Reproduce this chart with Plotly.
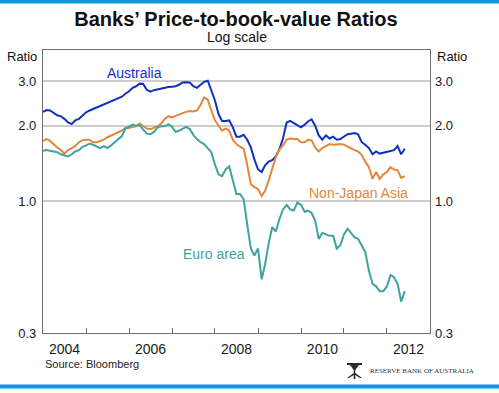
import math
import pandas as pd
import plotly.graph_objects as go

# ---------------- data (monthly, from Jan 2004) ----------------
australia = [2.27, 2.31, 2.30, 2.25, 2.20, 2.18, 2.13, 2.06, 2.03, 2.10, 2.13, 2.19,
             2.26, 2.30, 2.33, 2.35, 2.39, 2.43, 2.45, 2.49, 2.53, 2.57, 2.61, 2.68,
             2.74, 2.83, 2.87, 2.94, 2.93, 2.78, 2.73, 2.77, 2.79, 2.82, 2.83, 2.85,
             2.86, 2.87, 2.91, 2.97, 2.98, 2.97, 2.87, 2.83, 2.91, 2.99, 3.02, 2.78,
             2.52, 2.22, 2.09, 2.09, 2.10, 1.97, 1.81, 1.81, 1.84, 1.76, 1.64, 1.47,
             1.34, 1.31, 1.39, 1.44, 1.46, 1.51, 1.61, 1.78, 2.06, 2.09, 2.05, 2.00,
             1.97, 2.02, 2.08, 2.12, 2.00, 1.83, 1.76, 1.83, 1.78, 1.81, 1.76, 1.77,
             1.81, 1.85, 1.86, 1.87, 1.85, 1.72, 1.68, 1.63, 1.54, 1.58, 1.55, 1.56,
             1.57, 1.59, 1.60, 1.66, 1.54, 1.62]

non_japan_asia = [1.74, 1.77, 1.74, 1.68, 1.64, 1.60, 1.55, 1.60, 1.63, 1.66, 1.72, 1.75,
                  1.76, 1.76, 1.72, 1.72, 1.74, 1.76, 1.80, 1.83, 1.85, 1.88, 1.91, 1.96,
                  1.96, 1.98, 1.99, 2.04, 2.00, 1.95, 1.94, 1.97, 1.99, 2.04, 2.13, 2.18,
                  2.16, 2.19, 2.22, 2.25, 2.27, 2.29, 2.28, 2.30, 2.42, 2.59, 2.54, 2.30,
                  2.10, 2.00, 1.91, 1.95, 1.91, 1.76, 1.69, 1.65, 1.62, 1.40, 1.17, 1.14,
                  1.12, 1.05, 1.10, 1.21, 1.34, 1.50, 1.61, 1.67, 1.76, 1.78, 1.77, 1.77,
                  1.72, 1.72, 1.76, 1.75, 1.64, 1.58, 1.63, 1.66, 1.69, 1.68, 1.69, 1.69,
                  1.68, 1.65, 1.63, 1.60, 1.58, 1.53, 1.44, 1.37, 1.23, 1.31, 1.23, 1.28,
                  1.31, 1.37, 1.34, 1.33, 1.24, 1.26]

euro_area = [1.59, 1.60, 1.59, 1.58, 1.57, 1.54, 1.52, 1.51, 1.54, 1.58, 1.60, 1.65,
             1.67, 1.70, 1.68, 1.66, 1.63, 1.66, 1.63, 1.67, 1.72, 1.76, 1.82, 1.95,
             1.98, 2.02, 2.00, 2.01, 1.93, 1.86, 1.85, 1.89, 1.97, 1.99, 1.99, 2.03,
             1.98, 1.89, 1.91, 1.95, 1.98, 1.94, 1.84, 1.77, 1.72, 1.69, 1.63, 1.57,
             1.40, 1.28, 1.26, 1.34, 1.38, 1.20, 1.07, 1.07, 1.02, 0.81, 0.65, 0.61,
             0.65, 0.49, 0.56, 0.68, 0.79, 0.76, 0.85, 0.93, 0.97, 0.93, 0.92, 0.99,
             0.97, 0.91, 0.92, 0.90, 0.84, 0.71, 0.75, 0.74, 0.73, 0.73, 0.65, 0.67,
             0.74, 0.78, 0.75, 0.72, 0.71, 0.67, 0.63, 0.53, 0.47, 0.46, 0.44, 0.44,
             0.46, 0.51, 0.50, 0.47, 0.40, 0.44]

dates = pd.date_range("2004-01-01", periods=len(australia), freq="MS")

y_tick_vals = [0.3, 1.0, 2.0, 3.0]
y_tick_text = ["0.3", "1.0", "2.0", "3.0"]
x_tick_years = list(range(2005, 2013))
x_label_years = [2004, 2006, 2008, 2010, 2012]

C_AUS = "#1230c0"
C_NJA = "#e2873c"
C_EUR = "#3fa3a0"
FONT = "Liberation Sans, Arial, sans-serif"

# ---------------- geometry helpers (pixel -> paper) ----------------
W, H = 499, 393
ML, MR, MT, MB = 43, 69, 50, 60
PW, PH = W - ML - MR, H - MT - MB


def px(x):
    return (x - ML) / PW


def py(y):
    return (H - MB - y) / PH


yrange = [math.log10(0.3), math.log10(4.0)]

fig = go.Figure()
for name, vals, col in [("Australia", australia, C_AUS),
                        ("Non-Japan Asia", non_japan_asia, C_NJA),
                        ("Euro area", euro_area, C_EUR)]:
    fig.add_trace(go.Scatter(x=dates, y=vals, mode="lines", name=name,
                             line=dict(color=col, width=2), showlegend=False))

# invisible helpers so the overlay axes are drawn
fig.add_trace(go.Scatter(x=[dates[0]], y=[1.0], xaxis="x2", yaxis="y",
                         mode="markers", marker=dict(opacity=0), hoverinfo="skip",
                         showlegend=False))
fig.add_trace(go.Scatter(x=[dates[0]], y=[1.0], xaxis="x", yaxis="y2",
                         mode="markers", marker=dict(opacity=0), hoverinfo="skip",
                         showlegend=False))

axis_font = dict(family=FONT, size=13, color="#1a1a1a")

fig.update_layout(
    width=W, height=H,
    margin=dict(l=ML, r=MR, t=MT, b=MB),
    paper_bgcolor="white", plot_bgcolor="white",
    showlegend=False,
    title=dict(text="<b>Banks’ Price-to-book-value Ratios</b>",
               x=px(236), xanchor="center", xref="paper",
               y=1 - 19 / H, yanchor="middle", yref="container",
               font=dict(family=FONT, size=20, color="#111")),
    xaxis=dict(type="date", range=["2004-01-01", "2013-01-01"],
               tickmode="array", tickvals=[f"{y}-01-01" for y in x_tick_years],
               showticklabels=False, ticks="inside", ticklen=5, tickcolor="#666",
               tickwidth=1, showgrid=False, zeroline=False,
               showline=True, linecolor="#6e6e6e", linewidth=1.3, mirror=True),
    xaxis2=dict(type="date", range=["2004-01-01", "2013-01-01"], overlaying="x",
                side="bottom", anchor="y",
                tickmode="array", tickvals=[f"{y}-07-02" for y in x_label_years],
                ticktext=[str(y) for y in x_label_years], ticks="",
                tickfont=dict(family=FONT, size=14, color="#1a1a1a"),
                ticklabelstandoff=6,
                showgrid=False, zeroline=False, showline=False),
    yaxis=dict(type="log", range=yrange, tickmode="array",
               tickvals=y_tick_vals, ticktext=y_tick_text, ticks="",
               tickfont=axis_font, ticklabelstandoff=3,
               showgrid=True, gridcolor="#cccccc", gridwidth=1.5, zeroline=False,
               showline=True, linecolor="#6e6e6e", linewidth=1.3, mirror=True),
    yaxis2=dict(type="log", range=yrange, overlaying="y", side="right",
                anchor="x", tickmode="array", tickvals=y_tick_vals,
                ticktext=y_tick_text, ticks="", tickfont=axis_font,
                ticklabelstandoff=4, showgrid=False, zeroline=False,
                showline=False),
)

shapes = [
    # darker 1.0 reference line
    dict(type="line", xref="paper", yref="y", x0=0, x1=1, y0=0, y1=0,
         line=dict(color="#6e6e6e", width=1.3), layer="between"),
    # blue bands top and bottom
    dict(type="rect", xref="paper", yref="paper", x0=px(0), x1=px(W),
         y0=py(0), y1=py(3.5), fillcolor="#0a97dc", line=dict(width=0), layer="above"),
    dict(type="rect", xref="paper", yref="paper", x0=px(0), x1=px(W),
         y0=py(384.5), y1=py(388.5), fillcolor="#0a97dc", line=dict(width=0),
         layer="above"),
    # RBA logo (simplified)
    dict(type="path", xref="paper", yref="paper",
         path=(f"M {px(347)} {py(363)} L {px(362)} {py(363)} L {px(362)} {py(365)} "
               f"L {px(359)} {py(365)} L {px(355.3)} {py(370)} L {px(355.3)} {py(373)} "
               f"L {px(362)} {py(378)} L {px(360)} {py(378)} L {px(355.3)} {py(375)} "
               f"L {px(355.3)} {py(379)} L {px(353.7)} {py(379)} L {px(353.7)} {py(375)} "
               f"L {px(349)} {py(378)} L {px(347)} {py(378)} L {px(353.7)} {py(373)} "
               f"L {px(353.7)} {py(370)} L {px(350)} {py(365)} L {px(347)} {py(365)} Z"),
         fillcolor="#2a2a2a", line=dict(width=0), layer="above"),
]
fig.update_layout(shapes=shapes)

ann = [
    dict(text="Log scale", xref="paper", yref="paper", x=px(237), y=py(37),
         xanchor="center", yanchor="middle", showarrow=False,
         font=dict(family=FONT, size=14, color="#111")),
    dict(text="Ratio", xref="paper", yref="paper", x=px(38.5), y=py(56),
         xanchor="right", yanchor="middle", showarrow=False,
         font=dict(family=FONT, size=13, color="#111")),
    dict(text="Ratio", xref="paper", yref="paper", x=px(434.5), y=py(56),
         xanchor="left", yanchor="middle", showarrow=False,
         font=dict(family=FONT, size=13, color="#111")),
    dict(text="Source: Bloomberg", xref="paper", yref="paper", x=px(42.5), y=py(364),
         xanchor="left", yanchor="middle", showarrow=False,
         font=dict(family=FONT, size=11, color="#222")),
    dict(text="RESERVE BANK OF AUSTRALIA", xref="paper", yref="paper",
         x=px(368), y=py(371), xanchor="left", yanchor="middle", showarrow=False,
         font=dict(family="Liberation Serif, Times New Roman, serif", size=7,
                   color="#333")),
    # series labels (data coordinates; log axis -> log10 of value)
    dict(text="Australia", xref="x", yref="y", x="2006-02-15",
         y=math.log10(3.24), xanchor="center", yanchor="middle", showarrow=False,
         font=dict(family=FONT, size=14, color=C_AUS)),
    dict(text="Non-Japan Asia", xref="x", yref="y", x="2011-05-03",
         y=math.log10(1.085), xanchor="center", yanchor="middle", showarrow=False,
         font=dict(family=FONT, size=14, color=C_NJA)),
    dict(text="Euro area", xref="x", yref="y", x="2007-12-23",
         y=math.log10(0.619), xanchor="center", yanchor="middle", showarrow=False,
         font=dict(family=FONT, size=14, color=C_EUR)),
]
fig.update_layout(annotations=ann)

fig.write_html("out.html", config={"displayModeBar": False},
               post_script="document.body.style.margin='0';")
